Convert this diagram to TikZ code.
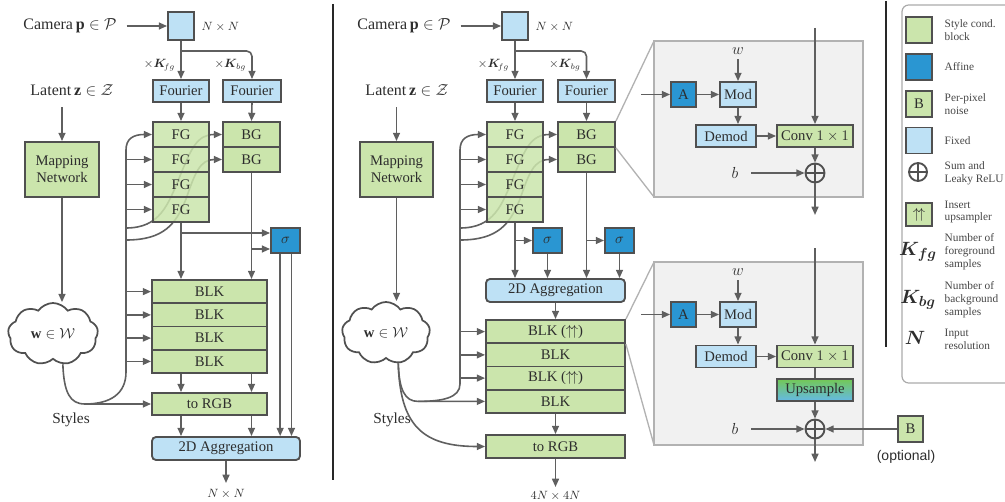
\documentclass[tikz,border=0pt]{standalone}
\usepackage{fontspec}
\setmainfont{Liberation Serif}
\newfontfamily\sansf{Liberation Sans}
\usepackage{bm}
\usetikzlibrary{arrows.meta,shapes.symbols,backgrounds}
\definecolor{grn}{RGB}{203,229,172}
\definecolor{fix}{RGB}{190,225,245}
\definecolor{aff}{RGB}{42,150,210}
\definecolor{bord}{RGB}{80,80,80}
\definecolor{arrc}{RGB}{95,95,95}
\definecolor{txt}{RGB}{45,45,45}
\definecolor{zfill}{RGB}{241,241,241}
\definecolor{zline}{RGB}{178,178,178}
\definecolor{legl}{RGB}{170,170,170}
\definecolor{legt}{RGB}{70,70,70}
\definecolor{divc}{RGB}{40,40,40}
\definecolor{upg}{RGB}{115,200,85}
\definecolor{upm}{RGB}{180,225,150}
\definecolor{upb}{RGB}{100,185,230}
\newcommand\pxu{0.75pt}
\tikzset{
 bx/.style={draw=bord, line width=1.4pt, inner sep=0pt, text=txt},
 gbx/.style={bx, fill=grn},
 fbx/.style={bx, fill=fix},
 abx/.style={bx, fill=aff},
 fgop/.style={fill opacity=0.86, text opacity=1},
 sz/.style 2 args={minimum width=#1*\pxu, minimum height=#2*\pxu},
 ln/.style={draw=arrc, line width=1.2pt},
 arr/.style={ln, -{Triangle[length=6.2pt,width=5.2pt]}},
 big/.style={font=\fontsize{12}{14}\selectfont, text=txt},
 small/.style={font=\fontsize{9}{10}\selectfont, text=txt},
 sumst/.style={circle, draw=bord, line width=1.4pt, minimum size=19*\pxu, inner sep=0pt,
   path picture={\draw[bord, line width=1.4pt] (path picture bounding box.north) -- (path picture bounding box.south)
   (path picture bounding box.west) -- (path picture bounding box.east);}},
 cloudst/.style={cloud, draw=bord, line width=1.3pt, fill=white, cloud puffs=9, cloud puff arc=110, cloud ignores aspect,
   inner sep=0pt, text=txt},
 zrect/.style={draw=zline, fill=zfill, line width=1.1pt},
 zl/.style={draw=zline, line width=1pt},
 leg/.style={anchor=west, align=left, font=\fontsize{8.5}{9.6}\selectfont, text=legt},
 divl/.style={draw=divc, line width=1.6pt},
}
\begin{document}
\begin{tikzpicture}[x=0.75pt,y=-0.75pt,font=\fontsize{11}{12.5}\selectfont]
\useasboundingbox (0,0) rectangle (1005,502);

% ---------------- dividers
\draw[divl] (333,4) -- (333,480);
\draw[divl] (886,1) -- (886,347);

% ================= LEFT PANEL
\node[big] (cam1t) at (70,26) {Camera\,$\mathbf{p}\in\mathcal{P}$};
\node[fbx, sz={26}{28}] (cam1) at (181,26) {};
\node[small, anchor=west] (nn1) at (197,27) {$N\times N$};
\draw[arr] ([xshift=4pt]cam1t.east) -- (cam1.west);
\coordinate (br1) at (181,51);
\node[fbx, sz={56}{22}] (fF1) at (181,91) {Fourier};
\node[fbx, sz={58}{22}] (fB1) at (252,91) {Fourier};
\draw[arr] (cam1.south) -- (fF1.north);
\draw[arr, rounded corners=4pt] (br1) -- (br1 -| fB1.north) -- (fB1.north);
\node[small, anchor=east] at (180,65) {$\times\bm{K}_{\!fg}$};
\node[small, anchor=east] at (251,65) {$\times\bm{K}_{bg}$};
\foreach \i/\y in {1/134.5,2/159.5,3/184.5,4/209.5}
  \node[gbx, fgop, sz={56}{25}] (fg1\i) at (181,\y) {FG};
\node[gbx, sz={57}{25}] (bg11) at (251.5,134.5) {BG};
\node[gbx, sz={57}{25}] (bg12) at (251.5,159.5) {BG};
\draw[arr] (fF1.south) -- (fg11.north);
\draw[arr] (fB1.south) -- (bg11.north);
\node[abx, sz={29}{25}] (sg1) at (285.5,240.5) {$\sigma$};
\foreach \i/\y in {1/291.6,2/314.9,3/338.1,4/361.4}
  \node[gbx, sz={115}{23.25}] (blk1\i) at (209.5,\y) {BLK};
\node[gbx, sz={115}{22}] (rgb1) at (209.5,404) {to RGB};
\node[fbx, sz={148}{23}, rounded corners=3pt] (agg1) at (226,448.5) {2D Aggregation};
\coordinate (out1) at (226,483);
\node[small] at (226,494) {$N\times N$};

\draw[arr] (fg14.south) -- (fg14.south |- blk11.north);
\draw[arr] (bg12.south) -- (bg12.south |- blk11.north);
\coordinate (s1a) at (181,233);
\coordinate (s1b) at (251.5,249);
\draw[arr] (s1a) -- (s1a -| sg1.west);
\draw[arr] (s1b) -- (s1b -| sg1.west);
\draw[arr] ([xshift=-4pt]sg1.south) -- ([xshift=-4pt]sg1.south |- agg1.north);
\draw[arr] ([xshift=4.5pt]sg1.south) -- ([xshift=4.5pt]sg1.south |- agg1.north);
\draw[arr] (blk14.south -| fg14.south) -- (rgb1.north -| fg14.south);
\draw[arr] (blk14.south -| bg12.south) -- (rgb1.north -| bg12.south);
\draw[arr] (rgb1.south -| fg14.south) -- (agg1.north -| fg14.south);
\draw[arr] (rgb1.south -| bg12.south) -- (agg1.north -| bg12.south);
\draw[arr] (agg1.south) -- (out1);

\node[big] (lat1) at (72,90) {Latent\,$\mathbf{z}\in\mathcal{Z}$};
\node[gbx, sz={74}{55}, align=center] (map1) at (62,169.5) {Mapping\\Network};
\node[cloudst, minimum width=90*\pxu, minimum height=62*\pxu] (cl1) at (53,334) {$\mathbf{w}\in\mathcal{W}$};
\node[text=txt, font=\fontsize{11.5}{13}\selectfont] (sty1) at (71,420) {Styles};
\draw[arr] (lat1.south -| map1.north) ++(0,-5pt) -- (map1.north);
\draw[arr] (map1.south) -- (map1.south |- cl1.north);

\coordinate (busL) at (126,0);
\coordinate (jn1) at (85,404);
\draw[arr] (cl1.-72) .. controls (64,393) and (70,404) .. (jn1) -- (rgb1.west);
\draw[arr] (jn1) .. controls (110,404) and (126,394) .. (126,372) -- (126,150) .. controls (126,139) and (133,134.5) .. (fg11.west);
\foreach \n in {fg12,fg13,fg14,blk11,blk12,blk13,blk14}
  \draw[arr] (busL |- \n.west) -- (\n.west);
\begin{pgfonlayer}{background}
\draw[arr] (126,228) .. controls (160,228) and (168,205) .. (180,176) .. controls (191,149) and (197,134.5) .. (bg11.west);
\draw[arr] (126,240) .. controls (164,240) and (176,224) .. (186,199) .. controls (195,173) and (200,159.5) .. (bg12.west);
\end{pgfonlayer}

% ================= MIDDLE PANEL
\node[big] (cam2t) at (404,26) {Camera\,$\mathbf{p}\in\mathcal{P}$};
\node[fbx, sz={26}{28}] (cam2) at (515,26) {};
\node[small, anchor=west] (nn2) at (531,27) {$N\times N$};
\draw[arr] ([xshift=4pt]cam2t.east) -- (cam2.west);
\coordinate (br2) at (515,51);
\node[fbx, sz={56}{22}] (fF2) at (515,91) {Fourier};
\node[fbx, sz={57}{22}] (fB2) at (586.5,91) {Fourier};
\draw[arr] (cam2.south) -- (fF2.north);
\draw[arr, rounded corners=4pt] (br2) -- (br2 -| fB2.north) -- (fB2.north);
\node[small, anchor=east] at (514,65) {$\times\bm{K}_{\!fg}$};
\node[small, anchor=east] at (585.5,65) {$\times\bm{K}_{bg}$};
\foreach \i/\y in {1/134.5,2/159.5,3/184.5,4/209.5}
  \node[gbx, fgop, sz={56}{25}] (fg2\i) at (515,\y) {FG};
\node[gbx, sz={57}{25}] (bg21) at (586.5,134.5) {BG};
\node[gbx, sz={57}{25}] (bg22) at (586.5,159.5) {BG};
\draw[arr] (fF2.south) -- (fg21.north);
\draw[arr] (fB2.south) -- (bg21.north);
\node[abx, sz={29}{25}] (sg2a) at (547.5,240.5) {$\sigma$};
\node[abx, sz={29}{25}] (sg2b) at (619.5,240.5) {$\sigma$};
\node[fbx, sz={139}{23}, rounded corners=3pt] (agg2) at (555.5,290.5) {2D Aggregation};
\node[gbx, sz={139}{23.25}] (blk21) at (555.5,331.6) {BLK ($\uparrow\!\uparrow$)};
\node[gbx, sz={139}{23.25}] (blk22) at (555.5,354.9) {BLK};
\node[gbx, sz={139}{23.25}] (blk23) at (555.5,378.1) {BLK ($\uparrow\!\uparrow$)};
\node[gbx, sz={139}{23.25}] (blk24) at (555.5,401.4) {BLK};
\node[gbx, sz={139}{23}] (rgb2) at (555.5,446.5) {to RGB};
\coordinate (out2) at (555.5,487);
\node[small] at (555.5,496) {$4N\times 4N$};

\draw[arr] (fg24.south) -- (fg24.south |- agg2.north);
\draw[arr] (bg22.south) -- (bg22.south |- agg2.north);
\draw[arr] (fg24.south |- sg2a.west) -- (sg2a.west);
\draw[arr] (bg22.south |- sg2b.west) -- (sg2b.west);
\draw[arr] (sg2a.south) -- (sg2a.south |- agg2.north);
\draw[arr] (sg2b.south) -- (sg2b.south |- agg2.north);
\draw[arr] (agg2.south) -- (blk21.north);
\draw[arr] (blk24.south) -- (rgb2.north);
\draw[arr] (rgb2.south) -- (out2);

\node[big] (lat2) at (407,90) {Latent\,$\mathbf{z}\in\mathcal{Z}$};
\node[gbx, sz={73}{55}, align=center] (map2) at (396.5,169.5) {Mapping\\Network};
\node[cloudst, minimum width=88*\pxu, minimum height=62*\pxu] (cl2) at (386,333) {$\mathbf{w}\in\mathcal{W}$};
\node[text=txt, font=\fontsize{11.5}{13}\selectfont] (sty2) at (392,420) {Styles};
\draw[arr] (lat2.south -| map2.north) ++(0,-5pt) -- (map2.north);
\draw[arr] (map2.south) -- (map2.south |- cl2.north);

\coordinate (busM) at (460,0);
\coordinate (jn2) at (418,401.4);
\draw[arr] (cl2.-68) .. controls (399,390) and (405,401.4) .. (jn2) -- (blk24.west);
\draw[ln] (jn2) .. controls (442,401.4) and (460,398) .. (460,384) -- (460,150);
\draw[arr] (460,150) .. controls (460,139) and (467,134.5) .. (fg21.west);
\draw[arr] (cl2.-68) .. controls (400,425) and (422,446.5) .. (rgb2.west);
\foreach \n in {fg22,fg23,fg24,blk21,blk22,blk23}
  \draw[arr] (busM |- \n.west) -- (\n.west);
\begin{pgfonlayer}{background}
\draw[arr] (460,228) .. controls (494,228) and (502,205) .. (514,176) .. controls (525,149) and (531,134.5) .. (bg21.west);
\draw[arr] (460,240) .. controls (498,240) and (510,224) .. (520,199) .. controls (529,173) and (534,159.5) .. (bg22.west);
\end{pgfonlayer}

% ================= ZOOM BOX 1
\coordinate (z1nw) at (654,41);
\coordinate (z1sw) at (654,197);
\coordinate (z1se) at (863,197);
\draw[zrect] (z1nw) rectangle (z1se);
\draw[zl] (bg21.north east) -- (z1nw);
\draw[zl] (bg21.south east) -- (z1sw);
\node[abx, sz={25}{25}] (A1) at (683.5,94.5) {A};
\node[fbx, sz={36}{25}] (M1) at (738,94.5) {Mod};
\node[fbx, sz={60}{22}] (D1) at (726,136) {Demod};
\node[gbx, sz={76}{22}] (C1) at (815,136) {Conv $1\times 1$};
\node[sumst] (S1) at (815,173) {};
\node[big] (w1) at (738,51) {$w$};
\node[big] (b1) at (735,173) {$b$};
\coordinate (in1) at (641,94.5);
\coordinate (top1) at (815,28);
\coordinate (o1) at (815,215);
\draw[arr] (in1) -- (A1.west);
\draw[arr] (A1.east) -- (M1.west);
\draw[arr] (w1.south) -- (M1.north);
\draw[arr] (M1.south) -- (M1.south |- D1.north);
\draw[arr] (D1.east) -- (C1.west);
\draw[arr] (top1) -- (C1.north);
\draw[arr] (C1.south) -- (S1.north);
\draw[arr] ([xshift=6pt]b1.east) -- (S1.west);
\draw[arr] (S1.south) -- (o1);

% ================= ZOOM BOX 2
\coordinate (z2nw) at (654,262);
\coordinate (z2sw) at (654,445);
\coordinate (z2se) at (863,445);
\draw[zrect] (z2nw) rectangle (z2se);
\draw[zl] (blk21.north east) -- (z2nw);
\draw[zl] (blk21.south east) -- (z2sw);
\node[abx, sz={25}{25}] (A2) at (683.5,314.5) {A};
\node[fbx, sz={36}{25}] (M2) at (738,314.5) {Mod};
\node[fbx, sz={60}{22}] (D2) at (726,356.5) {Demod};
\node[gbx, sz={76}{22}] (C2) at (815,356.5) {Conv $1\times 1$};
\node[bx, sz={76}{22}, top color=upg, middle color=upm, bottom color=upb] (U2) at (815,390) {Upsample};
\node[sumst] (S2) at (815,429) {};
\node[big] (w2) at (738,272) {$w$};
\node[big] (b2) at (735,429) {$b$};
\node[gbx, sz={25}{26}] (Bn) at (910.5,429) {B};
\node[text=txt, font=\sansf\fontsize{10.5}{12}\selectfont] (opt) at (906,457) {(optional)};
\coordinate (in2) at (641,314.5);
\coordinate (top2) at (815,248);
\coordinate (o2) at (815,462);
\draw[arr] (in2) -- (A2.west);
\draw[arr] (A2.east) -- (M2.west);
\draw[arr] (w2.south) -- (M2.north);
\draw[arr] (M2.south) -- (M2.south |- D2.north);
\draw[arr] (D2.east) -- (C2.west);
\draw[arr] (top2) -- (C2.north);
\draw[ln] (C2.south) -- (U2.north);
\draw[arr] (U2.south) -- (S2.north);
\draw[arr] ([xshift=6pt]b2.east) -- (S2.west);
\draw[arr] (Bn.west) -- (S2.east);
\draw[arr] (S2.south) -- (o2);

% ================= LEGEND
\draw[draw=legl, line width=0.9pt, rounded corners=5pt] (902,5) rectangle (1016,383);
\node[gbx, sz={26}{26}] (lg1) at (919,30) {};
\node[leg] at (940,30) {Style cond.\\block};
\node[abx, sz={26}{26}] (lg2) at (919,67) {};
\node[leg] at (940,67) {Affine};
\node[gbx, sz={26}{26}] (lg3) at (919,104) {B};
\node[leg] at (940,104) {Per-pixel\\noise};
\node[fbx, sz={26}{26}] (lg4) at (919,140.5) {};
\node[leg] at (940,141) {Fixed};
\node[sumst, minimum size=18*\pxu] (lg5) at (918,172) {};
\node[leg] at (940,173) {Sum and\\Leaky ReLU};
\node[gbx, sz={26}{23}] (lg6) at (919,214.5) {$\uparrow\!\uparrow$};
\node[leg] at (940,212) {Insert\\upsampler};
\node[text=txt, font=\fontsize{15}{16}\selectfont] at (918,252) {$\bm{K_{fg}}$};
\node[leg] at (940,252) {Number of\\foreground\\samples};
\node[text=txt, font=\fontsize{15}{16}\selectfont] at (918,300) {$\bm{K_{bg}}$};
\node[leg] at (940,300) {Number of\\background\\samples};
\node[text=txt, font=\fontsize{15}{16}\selectfont] at (915,338) {$\bm{N}$};
\node[leg] at (940,339) {Input\\resolution};
\end{tikzpicture}
\end{document}
